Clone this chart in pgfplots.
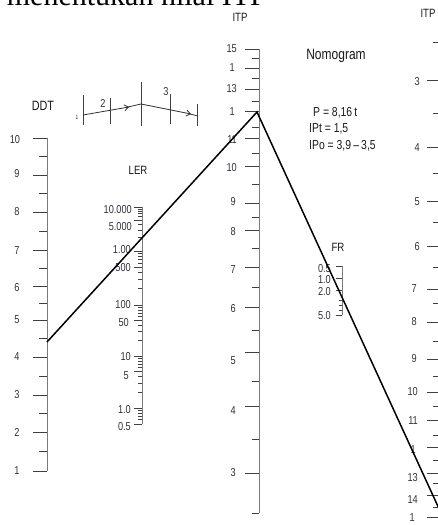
\documentclass[border=0pt]{standalone}
\usepackage{fontspec}
\setmainfont{Liberation Sans}[FakeStretch=0.8]
\newfontfamily\titleserif{Liberation Serif}
\usepackage{pgfplots}
\pgfplotsset{compat=1.18}
\usetikzlibrary{arrows.meta}
\definecolor{scaleline}{HTML}{7A7A7A}
\definecolor{tickcol}{HTML}{404040}
\definecolor{lblcol}{HTML}{30303C}
\tikzset{
  lbl/.style={font=\fontsize{11.5}{12}\selectfont, text=lblcol, inner sep=0pt},
  ttl/.style={font=\fontsize{13.5}{15}\selectfont, text=black!90, inner sep=0pt},
  sctick/.style={tickcol, line width=0.9pt},
  scline/.style={scaleline, line width=0.9pt},
}
\begin{document}
\begin{tikzpicture}
\begin{axis}[
  width=438pt, height=525pt, scale only axis,
  xmin=0, xmax=438, ymin=0, ymax=525, y dir=reverse,
  hide axis, clip=true, unbounded coords=jump,
]
% ---------- DDT scale ----------
\addplot[scline] coordinates {(47,138) (47,471)};
\addplot[sctick] table[row sep=\\] {x y\\
33 138\\47 138\\nan nan\\33 175\\47 175\\nan nan\\33 212\\47 212\\nan nan\\
33 250\\47 250\\nan nan\\33 286\\47 286\\nan nan\\33 320\\47 320\\nan nan\\
33 357\\47 357\\nan nan\\33 395\\47 395\\nan nan\\33 432\\47 432\\nan nan\\
33 471\\47 471\\nan nan\\
39 156\\47 156\\nan nan\\39 193\\47 193\\nan nan\\39 231\\47 231\\nan nan\\
39 268\\47 268\\nan nan\\39 303\\47 303\\nan nan\\39 338\\47 338\\nan nan\\
39 376\\47 376\\nan nan\\39 413\\47 413\\nan nan\\39 451\\47 451\\};
\node[ttl] at (43,106) {DDT};
\node[lbl] at (15,140) {10};
\node[lbl] at (17,174) {9};
\node[lbl] at (17,212) {8};
\node[lbl] at (17,251) {7};
\node[lbl] at (17,288) {6};
\node[lbl] at (17,320) {5};
\node[lbl] at (17,357) {4};
\node[lbl] at (17,395) {3};
\node[lbl] at (17,432) {2};
\node[lbl] at (17,471) {1};
% ---------- small sketch ----------
\addplot[tickcol, line width=0.8pt] table[row sep=\\] {x y\\
83 95\\83 125\\nan nan\\110 98\\110 124\\nan nan\\141 82\\141 126\\nan nan\\
170 94\\170 124\\nan nan\\197 104\\197 126\\};
\addplot[black!80, line width=0.8pt, -{Straight Barb[length=4pt,width=6pt]}] coordinates {(83,115) (129,107)};
\addplot[black!80, line width=0.8pt] coordinates {(128,107) (141,104)};
\addplot[black!80, line width=0.8pt, -{Straight Barb[length=4pt,width=6pt]}] coordinates {(141,104) (191,114)};
\addplot[black!80, line width=0.8pt] coordinates {(190,114) (198,116)};
\node[lbl, font=\fontsize{6}{7}\selectfont] at (77,117) {1};
\node[lbl] at (103,103) {2};
\node[lbl] at (166,92) {3};
% ---------- LER scale ----------
\addplot[scline] coordinates {(142,207) (142,424)};
\addplot[sctick] table[row sep=\\] {x y\\
134 207\\142 207\\nan nan\\134 220.2\\142 220.2\\nan nan\\134 251\\142 251\\nan nan\\
134 267.3\\142 267.3\\nan nan\\134 305\\142 305\\nan nan\\134 320.4\\142 320.4\\nan nan\\
134 356\\142 356\\nan nan\\134 371.7\\142 371.7\\nan nan\\134 408\\142 408\\nan nan\\
134 424\\142 424\\};
\addplot[sctick, line width=0.7pt] table[row sep=\\] {x y\\
138 237.8\\142 237.8\\nan nan\\138 230\\142 230\\nan nan\\138 224.5\\142 224.5\\nan nan\\
138 216.8\\142 216.8\\nan nan\\138 213.8\\142 213.8\\nan nan\\138 211.3\\142 211.3\\nan nan\\138 209\\142 209\\nan nan\\
138 288.7\\142 288.7\\nan nan\\138 279.2\\142 279.2\\nan nan\\138 272.5\\142 272.5\\nan nan\\
138 263\\142 263\\nan nan\\138 259.4\\142 259.4\\nan nan\\138 256.2\\142 256.2\\nan nan\\138 253.5\\142 253.5\\nan nan\\
138 340.6\\142 340.6\\nan nan\\138 331.7\\142 331.7\\nan nan\\138 325.3\\142 325.3\\nan nan\\
138 316.3\\142 316.3\\nan nan\\138 312.9\\142 312.9\\nan nan\\138 309.9\\142 309.9\\nan nan\\138 307.3\\142 307.3\\nan nan\\
138 392.3\\142 392.3\\nan nan\\138 383.2\\142 383.2\\nan nan\\138 376.7\\142 376.7\\nan nan\\
138 367.5\\142 367.5\\nan nan\\138 364.1\\142 364.1\\nan nan\\138 361\\142 361\\nan nan\\138 358.4\\142 358.4\\nan nan\\
138 419.5\\142 419.5\\nan nan\\138 416\\142 416\\nan nan\\138 413\\142 413\\nan nan\\138 410.4\\142 410.4\\};
\node[ttl, font=\fontsize{12}{14}\selectfont] at (138,170) {LER};
\node[lbl, anchor=east] at (132,210) {10.000};
\node[lbl, anchor=east] at (132,227) {5.000};
\node[lbl, anchor=east] at (131,250) {1.00};
\node[lbl, anchor=east] at (131,268) {500};
\node[lbl, anchor=east] at (131,305) {100};
\node[lbl, anchor=east] at (129,323) {50};
\node[lbl, anchor=east] at (131,357) {10};
\node[lbl, anchor=east] at (129,376) {5};
\node[lbl, anchor=east] at (131,410) {1.0};
\node[lbl, anchor=east] at (131,427) {0.5};
% ---------- ITP (middle) scale ----------
\addplot[scline] coordinates {(259,49) (259,513)};
\addplot[sctick] table[row sep=\\] {x y\\
245 49\\259 49\\nan nan\\245 68\\259 68\\nan nan\\245 89\\259 89\\nan nan\\
245 111\\259 111\\nan nan\\245 138\\259 138\\nan nan\\245 166\\259 166\\nan nan\\
245 203\\259 203\\nan nan\\245 230\\259 230\\nan nan\\245 267\\259 267\\nan nan\\
245 307\\259 307\\nan nan\\245 352\\259 352\\nan nan\\245 406\\259 406\\nan nan\\
245 473\\259 473\\nan nan\\
252 58\\259 58\\nan nan\\252 78\\259 78\\nan nan\\252 101\\259 101\\nan nan\\
252 127\\259 127\\nan nan\\252 153\\259 153\\nan nan\\252 184\\259 184\\nan nan\\
252 217\\259 217\\nan nan\\252 248\\259 248\\nan nan\\252 287\\259 287\\nan nan\\
252 330\\259 330\\nan nan\\252 381\\259 381\\nan nan\\252 439\\259 439\\nan nan\\
252 513\\259 513\\};
\node[ttl, font=\fontsize{12}{14}\selectfont] at (240,17) {ITP};
\node[lbl, anchor=east] at (237,49) {15};
\node[lbl, anchor=east] at (235,68) {1};
\node[lbl, anchor=east] at (237,89) {13};
\node[lbl, anchor=east] at (235,112) {1};
\node[lbl, anchor=east] at (237,140) {11};
\node[lbl, anchor=east] at (237,168) {10};
\node[lbl, anchor=east] at (236,202) {9};
\node[lbl, anchor=east] at (236,232) {8};
\node[lbl, anchor=east] at (236,270) {7};
\node[lbl, anchor=east] at (236,309) {6};
\node[lbl, anchor=east] at (236,361) {5};
\node[lbl, anchor=east] at (236,411) {4};
\node[lbl, anchor=east] at (236,473) {3};
% ---------- Nomogram text ----------
\node[ttl, font=\fontsize{15}{16}\selectfont] at (336,56) {Nomogram};
\node[ttl, anchor=west, font=\fontsize{13}{15}\selectfont] at (313,113) {P = 8,16\,t};
\node[ttl, anchor=west, font=\fontsize{13}{15}\selectfont] at (309,129) {IPt = 1,5};
\node[ttl, anchor=west, font=\fontsize{13}{15}\selectfont] at (309,146) {IPo = 3,9\,--\,3,5};
% ---------- FR scale ----------
\addplot[scline] coordinates {(342,266) (342,315)};
\addplot[sctick] table[row sep=\\] {x y\\
336 266\\342 266\\nan nan\\336 278\\342 278\\nan nan\\336 290\\342 290\\nan nan\\
336 315\\342 315\\nan nan\\339 300\\342 300\\nan nan\\339 305\\342 305\\nan nan\\339 310\\342 310\\};
\node[ttl, font=\fontsize{12}{14}\selectfont] at (338,247) {FR};
\node[lbl, anchor=east] at (331,269) {0.5};
\node[lbl, anchor=east] at (331,280) {1.0};
\node[lbl, anchor=east] at (331,292) {2.0};
\node[lbl, anchor=east] at (331,316) {5.0};
% ---------- ITP (right) scale ----------
\addplot[scline] coordinates {(440,20) (440,525)};
\addplot[sctick] table[row sep=\\] {x y\\
427 80\\440 80\\nan nan\\427 147\\440 147\\nan nan\\427 201\\440 201\\nan nan\\
427 246\\440 246\\nan nan\\427 289\\440 289\\nan nan\\427 322\\440 322\\nan nan\\
427 359\\440 359\\nan nan\\427 392\\440 392\\nan nan\\427 420\\440 420\\nan nan\\
427 447\\440 447\\nan nan\\427 473\\440 473\\nan nan\\427 495\\440 495\\nan nan\\
427 517\\440 517\\nan nan\\
433 42\\440 42\\nan nan\\433 113\\440 113\\nan nan\\433 173\\440 173\\nan nan\\
433 222\\440 222\\nan nan\\433 267\\440 267\\nan nan\\433 303\\440 303\\nan nan\\
433 341\\440 341\\nan nan\\433 376\\440 376\\nan nan\\433 406\\440 406\\nan nan\\
433 435\\440 435\\nan nan\\433 460\\440 460\\nan nan\\433 483\\440 483\\nan nan\\
433 507\\440 507\\};
\node[ttl, font=\fontsize{12}{14}\selectfont] at (428,13) {ITP};
\node[lbl, anchor=east] at (420,82) {3};
\node[lbl, anchor=east] at (420,148) {4};
\node[lbl, anchor=east] at (420,202) {5};
\node[lbl, anchor=east] at (420,247) {6};
\node[lbl, anchor=east] at (417,289) {7};
\node[lbl, anchor=east] at (417,322) {8};
\node[lbl, anchor=east] at (417,359) {9};
\node[lbl, anchor=east] at (418,392) {10};
\node[lbl, anchor=east] at (418,421) {11};
\node[lbl, anchor=east] at (416,450) {1};
\node[lbl, anchor=east] at (418,478) {13};
\node[lbl, anchor=east] at (418,500) {14};
\node[lbl, anchor=east] at (415,518) {1};
% ---------- reading lines ----------
\addplot[black, line width=1.5pt] coordinates {(47,342) (257,112) (441,513)};
% ---------- cut-off heading ----------
\node[anchor=base east, inner sep=0pt, font=\titleserif\fontsize{30}{32}\selectfont] at (267,5) {menentukan nilai ITP};
\end{axis}
\pgfresetboundingbox
\path[use as bounding box] (current axis.south west) rectangle (current axis.north east);
\end{tikzpicture}
\end{document}
